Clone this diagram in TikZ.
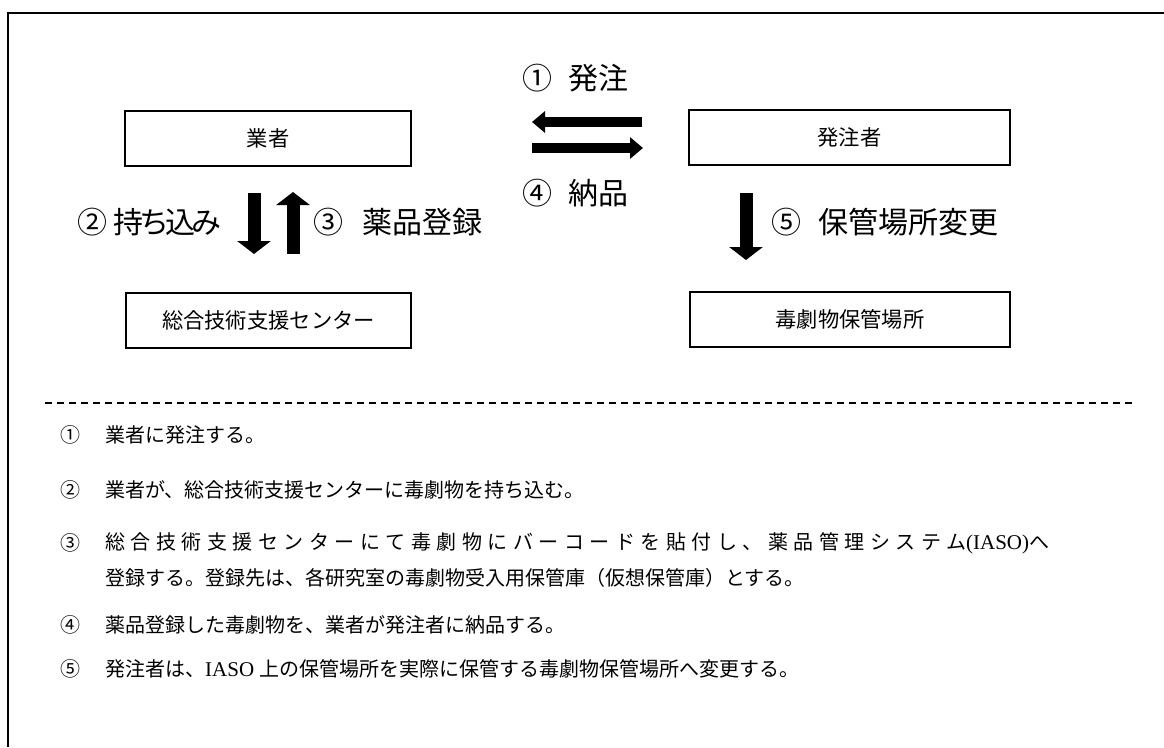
\documentclass[tikz,border=0pt]{standalone}
\usepackage{fontspec}
\setmainfont{Liberation Serif}
\newfontfamily\jp{Noto Sans CJK JP}
\newfontfamily\jpwide[LetterSpace=27.5]{Noto Sans CJK JP}
\newfontfamily\jpnarrow[LetterSpace=-13]{Noto Sans CJK JP}
\usetikzlibrary{arrows.meta}
\tikzset{
  box/.style={draw,line width=2pt,minimum height=55pt,inner sep=0pt,font=\jp\fontsize{21.3}{24}\selectfont},
  lbl/.style={anchor=west,inner sep=0pt,font=\jp\fontsize{30}{32}\selectfont},
  num/.style={inner sep=0pt,font=\jp\fontsize{20}{22}\selectfont},
  item/.style={anchor=west,inner sep=0pt,font=\jp\fontsize{20}{22}\selectfont},
  harrow/.style={line width=10pt,-{Triangle[length=13pt,width=21pt]}},
  varrow/.style={line width=13pt,-{Triangle[length=13pt,width=33pt]}},
  frame/.style={line width=2.5pt},
  sep/.style={line width=1.5pt,dash pattern=on 7pt off 5pt}
}
\begin{document}
\begin{tikzpicture}[x=1pt,y=-1pt]
\useasboundingbox (0,0) rectangle (1164,747);
% outer frame
\draw[frame] (1164,13) -- (8,13) -- (8,747);
% boxes
\node[box,minimum width=286pt] (gyosha) at (268,138.5) {業者};
\node[box,minimum width=321pt] (hatchu) at (849.5,137.5) {発注者};
\node[box,minimum width=285pt] (center) at (268.5,320.5) {総合技術支援センター};
\node[box,minimum width=320pt] (storage) at (850,319.5) {毒劇物保管場所};
% arrows
\coordinate (a1s) at (642,122); \coordinate (a1e) at (532,122);
\coordinate (a4s) at (532,148); \coordinate (a4e) at (643,148);
\coordinate (a2s) at (254,193); \coordinate (a2e) at (254,254);
\coordinate (a3s) at (293,254); \coordinate (a3e) at (293,192);
\coordinate (a5s) at (746,193); \coordinate (a5e) at (746,260);
\draw[harrow] (a1s) -- (a1e);
\draw[harrow] (a4s) -- (a4e);
\draw[varrow] (a2s) -- (a2e);
\draw[varrow] (a3s) -- (a3e);
\draw[varrow] (a5s) -- (a5e);
% arrow labels
\node[lbl] (l1n) at (522,78) {①};
\node[lbl] (l1) at (568,78) {発注};
\node[lbl] (l4n) at (522,193) {④};
\node[lbl] (l4) at (568,193) {納品};
\node[lbl] (l2n) at (77,222) {②};
\node[lbl] (l2) at (113,222) {\jpnarrow 持ち込み};
\node[lbl] (l3n) at (313,222) {③};
\node[lbl] (l3) at (362,222) {薬品登録};
\node[lbl] (l5n) at (771,222) {⑤};
\node[lbl] (l5) at (818,222) {保管場所変更};
% separator
\coordinate (s1) at (45,403); \coordinate (s2) at (1135,403);
\draw[sep] (s1) -- (s2);
% list
\node[num] (n1) at (70,435) {①};
\node[item] (t1) at (105,435) {業者に発注する。};
\node[num] (n2) at (70,490) {②};
\node[item] (t2) at (105,490) {業者が、総合技術支援センターに毒劇物を持ち込む。};
\node[num] (n3) at (70,543) {③};
\node[item] (t3) at (105,543) {{\jpwide 総合技術支援センターにて毒劇物にバーコードを貼付し、薬品管理システム}{\rmfamily\fontsize{21}{22}\selectfont(IASO)}へ};
\node[item] (t3b) at (105,578) {登録する。登録先は、各研究室の毒劇物受入用保管庫（仮想保管庫）とする。};
\node[num] (n4) at (70,625) {④};
\node[item] (t4) at (105,625) {薬品登録した毒劇物を、業者が発注者に納品する。};
\node[num] (n5) at (70,669) {⑤};
\node[item] (t5) at (105,669) {発注者は、{\rmfamily\fontsize{21}{22}\selectfont IASO }上の保管場所を実際に保管する毒劇物保管場所へ変更する。};
\end{tikzpicture}
\end{document}
